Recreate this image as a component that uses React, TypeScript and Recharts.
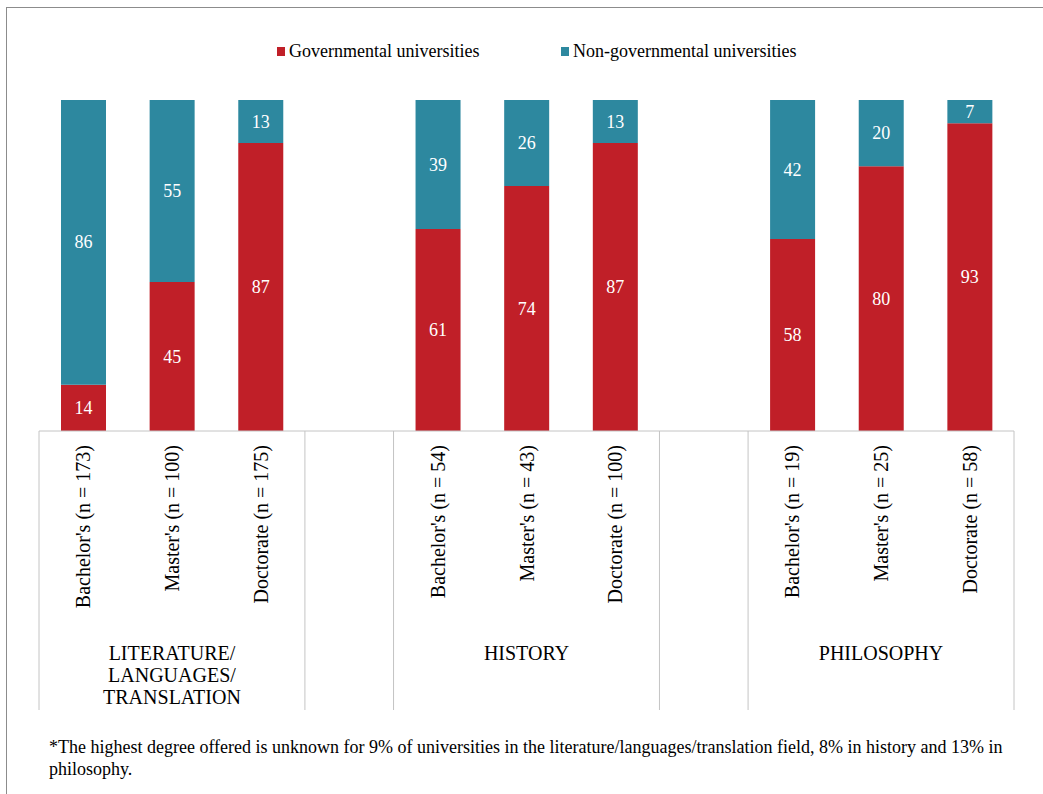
import { BarChart, Bar, XAxis, YAxis, Legend, LabelList } from "recharts";

const categories = [
  "Bachelor's (n = 173)",
  "Master's (n = 100)",
  "Doctorate (n = 175)",
  "",
  "Bachelor's (n = 54)",
  "Master's (n = 43)",
  "Doctorate (n = 100)",
  "",
  "Bachelor's (n = 19)",
  "Master's (n = 25)",
  "Doctorate (n = 58)",
];
const governmental = [14, 45, 87, null, 61, 74, 87, null, 58, 80, 93];
const nonGovernmental = [86, 55, 13, null, 39, 26, 13, null, 42, 20, 7];
const groupNames = [["LITERATURE/", "LANGUAGES/", "TRANSLATION"], ["HISTORY"], ["PHILOSOPHY"]];

const RED = "#C01F28";
const TEAL = "#2D889F";
const FONT = "'Liberation Serif', 'Times New Roman', serif";

const data = categories.map((label, i) => ({
  key: label || `gap${i}`,
  label,
  gov: governmental[i],
  nongov: nonGovernmental[i],
}));

const CategoryTick = (props: any) => {
  const { x, y, payload } = props;
  const idx = data.findIndex((d) => d.key === payload.value);
  const half = payload.offset ?? 0;
  const entry = data[idx];
  const sep = (sx: number) => (
    <line x1={sx} x2={sx} y1={y} y2={y + 279} stroke="#C4C4C4" strokeWidth={1} />
  );
  if (!entry) return null;
  if (!entry.label) {
    return (
      <g>
        {sep(x - half)}
        {sep(x + half)}
      </g>
    );
  }
  const posInGroup = idx % 4;
  const group = Math.floor(idx / 4);
  return (
    <g>
      {idx === 0 && sep(x - half)}
      {idx === data.length - 1 && sep(x + half)}
      <text
        transform={`translate(${x},${y + 14}) rotate(-90)`}
        textAnchor="end"
        dominantBaseline="central"
        fontFamily={FONT}
        fontSize={20}
        fill="#000"
      >
        {entry.label}
      </text>
      {posInGroup === 1 && (
        <text x={x} y={y + 229} textAnchor="middle" fontFamily={FONT} fontSize={20} fill="#000">
          {groupNames[group].map((line, j) => (
            <tspan key={j} x={x} dy={j === 0 ? 0 : 22}>
              {line}
            </tspan>
          ))}
        </text>
      )}
    </g>
  );
};

const renderValue = (props: any) => {
  const { x, y, width, height, value } = props;
  if (value == null) return null;
  return (
    <text
      x={x + width / 2}
      y={y + height / 2}
      textAnchor="middle"
      dominantBaseline="central"
      fill="#fff"
      fontFamily={FONT}
      fontSize={18}
    >
      {value}
    </text>
  );
};

const LegendContent = () => (
  <div style={{ fontFamily: FONT, fontSize: 18, color: "#000", position: "relative", height: 24 }}>
    <span style={{ position: "absolute", left: 277, top: 6, width: 8, height: 9, background: RED }} />
    <span style={{ position: "absolute", left: 289, top: 0 }}>Governmental universities</span>
    <span style={{ position: "absolute", left: 561, top: 6, width: 8, height: 9, background: TEAL }} />
    <span style={{ position: "absolute", left: 573, top: 0 }}>Non-governmental universities</span>
  </div>
);

export default function App() {
  return (
    <div
      style={{
        position: "absolute",
        left: 0,
        top: 0,
        width: 1043,
        height: 794,
        overflow: "hidden",
        background: "#fff",
      }}
    >
      <div
        style={{
          position: "absolute",
          left: 6,
          top: 7,
          width: 1100,
          height: 900,
          border: "1px solid #8C8C8C",
        }}
      />
      <div style={{ position: "absolute", left: 0, top: 0 }}>
        <BarChart
          width={1043}
          height={794}
          data={data}
          margin={{ top: 76, right: 29, bottom: 84, left: 39 }}
          barSize={45}
        >
          <XAxis
            dataKey="key"
            interval={0}
            height={279}
            tickLine={false}
            tickSize={0}
            tickMargin={0}
            axisLine={{ stroke: "#C4C4C4" }}
            tick={<CategoryTick />}
          />
          <YAxis hide domain={[0, 100]} />
          <Legend
            verticalAlign="top"
            height={24}
            content={<LegendContent />}
            wrapperStyle={{ top: 41, left: 0, width: 1043 }}
          />
          <Bar dataKey="gov" stackId="a" fill={RED} isAnimationActive={false}>
            <LabelList dataKey="gov" content={renderValue} />
          </Bar>
          <Bar dataKey="nongov" stackId="a" fill={TEAL} isAnimationActive={false}>
            <LabelList dataKey="nongov" content={renderValue} />
          </Bar>
        </BarChart>
      </div>
      <div
        style={{
          position: "absolute",
          left: 49,
          top: 736,
          width: 980,
          fontFamily: FONT,
          fontSize: 18,
          lineHeight: "22px",
          color: "#000",
        }}
      >
        *The highest degree offered is unknown for 9% of universities in the literature/languages/translation field, 8% in history and 13% in philosophy.
      </div>
    </div>
  );
}
